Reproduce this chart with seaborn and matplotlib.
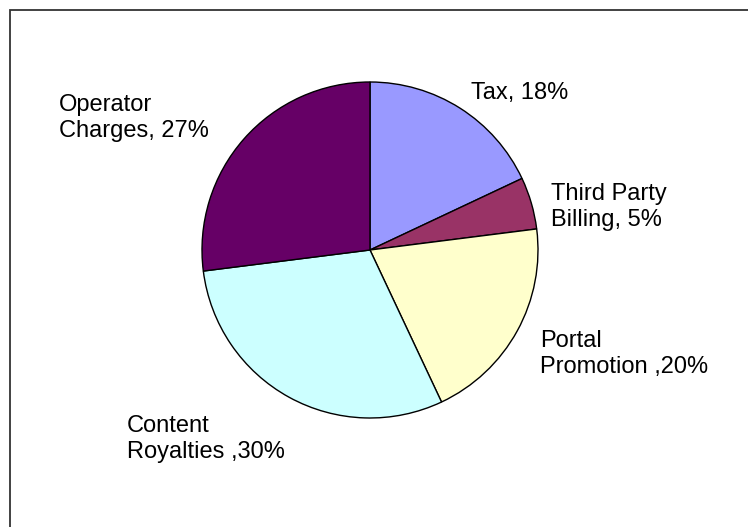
import matplotlib
matplotlib.use("Agg")
import matplotlib.pyplot as plt
import seaborn as sns
from matplotlib.patches import Rectangle

categories = ["Tax", "Third Party Billing", "Portal Promotion", "Content Royalties", "Operator Charges"]
values = [18, 5, 20, 30, 27]
labels = ["Tax, 18%", "Third Party\nBilling, 5%", "Portal\nPromotion ,20%",
          "Content\nRoyalties ,30%", "Operator\nCharges, 27%"]
colors = ["#9999FF", "#993366", "#FFFFCC", "#CCFFFF", "#660066"]

sns.set_theme(style="white")
plt.rcParams["font.family"] = ["Liberation Sans", "DejaVu Sans"]

W, H = 748, 527
fig = plt.figure(figsize=(W / 100, H / 100), dpi=100)
fig.patch.set_facecolor("white")

cx, cy, r = 370, 250, 168
ax = fig.add_axes([(cx - r) / W, (H - cy - r) / H, 2 * r / W, 2 * r / H])
wedges, _ = ax.pie(values, colors=colors, startangle=90, counterclock=False, radius=1,
                   wedgeprops=dict(edgecolor="black", linewidth=1.0))
for w in wedges:
    w.set_clip_on(False)
ax.set_xlim(-1, 1)
ax.set_ylim(-1, 1)
ax.set_axis_off()

# label anchor positions (pixels: left x, last-line baseline y from top)
label_pos = [(471, 99), (551, 226), (540, 373), (127, 458), (59, 137)]
for txt, (lx, ly) in zip(labels, label_pos):
    fig.text(lx / W, 1 - ly / H, txt, ha="left", va="baseline",
             fontsize=17, color="black", linespacing=1.25)

# outer frame (open to right and bottom edges)
fig.patches.append(Rectangle((10 / W, -0.5), 2, 0.5 + 1 - 10 / H,
                             transform=fig.transFigure, fill=False,
                             edgecolor="#333333", linewidth=1.3))

fig.savefig("out.png", dpi=100)
